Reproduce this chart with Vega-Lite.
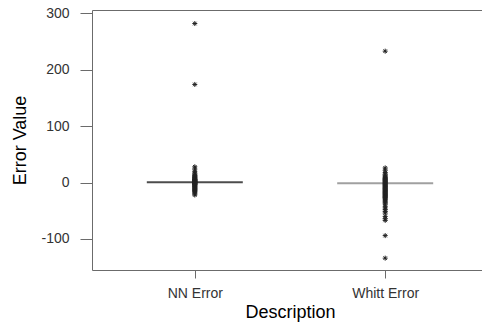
{
  "$schema": "https://vega.github.io/schema/vega-lite/v6.json",
  "width": 390,
  "height": 260,
  "autosize": "none",
  "padding": {"left": 92, "top": 10, "right": 0, "bottom": 55},
  "background": "white",
  "config": {
    "view": {"stroke": null},
    "font": "Liberation Sans",
    "axis": {
      "grid": false,
      "domainColor": "#6b6b6b",
      "tickColor": "#6b6b6b",
      "labelColor": "#333333",
      "labelFont": "Liberation Sans",
      "labelFontSize": 14,
      "titleFont": "Liberation Sans",
      "titleFontSize": 18,
      "titleFontWeight": "normal",
      "titleColor": "#000000"
    }
  },
  "datasets": {
    "errors": [
      {"Description": "NN Error", "Value": 282},
      {"Description": "NN Error", "Value": 174},
      {"Description": "NN Error", "Value": 28},
      {"Description": "NN Error", "Value": 24},
      {"Description": "NN Error", "Value": 20},
      {"Description": "NN Error", "Value": 17},
      {"Description": "NN Error", "Value": 15},
      {"Description": "NN Error", "Value": 13},
      {"Description": "NN Error", "Value": 12},
      {"Description": "NN Error", "Value": 11},
      {"Description": "NN Error", "Value": 10},
      {"Description": "NN Error", "Value": 9},
      {"Description": "NN Error", "Value": 8},
      {"Description": "NN Error", "Value": 7},
      {"Description": "NN Error", "Value": 6},
      {"Description": "NN Error", "Value": 5.5},
      {"Description": "NN Error", "Value": 5},
      {"Description": "NN Error", "Value": 4.5},
      {"Description": "NN Error", "Value": 4},
      {"Description": "NN Error", "Value": 3.5},
      {"Description": "NN Error", "Value": 3},
      {"Description": "NN Error", "Value": 2.5},
      {"Description": "NN Error", "Value": 2},
      {"Description": "NN Error", "Value": 1.5},
      {"Description": "NN Error", "Value": 1},
      {"Description": "NN Error", "Value": 0.5},
      {"Description": "NN Error", "Value": 0},
      {"Description": "NN Error", "Value": -0.5},
      {"Description": "NN Error", "Value": -1},
      {"Description": "NN Error", "Value": -1.5},
      {"Description": "NN Error", "Value": -2},
      {"Description": "NN Error", "Value": -2.5},
      {"Description": "NN Error", "Value": -3},
      {"Description": "NN Error", "Value": -3.5},
      {"Description": "NN Error", "Value": -4},
      {"Description": "NN Error", "Value": -5},
      {"Description": "NN Error", "Value": -6},
      {"Description": "NN Error", "Value": -7},
      {"Description": "NN Error", "Value": -8},
      {"Description": "NN Error", "Value": -9},
      {"Description": "NN Error", "Value": -10},
      {"Description": "NN Error", "Value": -11},
      {"Description": "NN Error", "Value": -12},
      {"Description": "NN Error", "Value": -13},
      {"Description": "NN Error", "Value": -14},
      {"Description": "NN Error", "Value": -15},
      {"Description": "NN Error", "Value": -16},
      {"Description": "NN Error", "Value": -18},
      {"Description": "NN Error", "Value": -20},
      {"Description": "NN Error", "Value": -22},
      {"Description": "Whitt Error", "Value": 233},
      {"Description": "Whitt Error", "Value": 26},
      {"Description": "Whitt Error", "Value": 22},
      {"Description": "Whitt Error", "Value": 18},
      {"Description": "Whitt Error", "Value": 15},
      {"Description": "Whitt Error", "Value": 13},
      {"Description": "Whitt Error", "Value": 11},
      {"Description": "Whitt Error", "Value": 9},
      {"Description": "Whitt Error", "Value": 8},
      {"Description": "Whitt Error", "Value": 7},
      {"Description": "Whitt Error", "Value": 6},
      {"Description": "Whitt Error", "Value": 5},
      {"Description": "Whitt Error", "Value": 4},
      {"Description": "Whitt Error", "Value": 3},
      {"Description": "Whitt Error", "Value": 2},
      {"Description": "Whitt Error", "Value": 1},
      {"Description": "Whitt Error", "Value": 0},
      {"Description": "Whitt Error", "Value": -1},
      {"Description": "Whitt Error", "Value": -2},
      {"Description": "Whitt Error", "Value": -3},
      {"Description": "Whitt Error", "Value": -4},
      {"Description": "Whitt Error", "Value": -5},
      {"Description": "Whitt Error", "Value": -6},
      {"Description": "Whitt Error", "Value": -7},
      {"Description": "Whitt Error", "Value": -8},
      {"Description": "Whitt Error", "Value": -9},
      {"Description": "Whitt Error", "Value": -10},
      {"Description": "Whitt Error", "Value": -11},
      {"Description": "Whitt Error", "Value": -12},
      {"Description": "Whitt Error", "Value": -13},
      {"Description": "Whitt Error", "Value": -14},
      {"Description": "Whitt Error", "Value": -15},
      {"Description": "Whitt Error", "Value": -16},
      {"Description": "Whitt Error", "Value": -17},
      {"Description": "Whitt Error", "Value": -18},
      {"Description": "Whitt Error", "Value": -19},
      {"Description": "Whitt Error", "Value": -20},
      {"Description": "Whitt Error", "Value": -21},
      {"Description": "Whitt Error", "Value": -22},
      {"Description": "Whitt Error", "Value": -23},
      {"Description": "Whitt Error", "Value": -24},
      {"Description": "Whitt Error", "Value": -25},
      {"Description": "Whitt Error", "Value": -26},
      {"Description": "Whitt Error", "Value": -27},
      {"Description": "Whitt Error", "Value": -28},
      {"Description": "Whitt Error", "Value": -30},
      {"Description": "Whitt Error", "Value": -32},
      {"Description": "Whitt Error", "Value": -34},
      {"Description": "Whitt Error", "Value": -36},
      {"Description": "Whitt Error", "Value": -38},
      {"Description": "Whitt Error", "Value": -42},
      {"Description": "Whitt Error", "Value": -45},
      {"Description": "Whitt Error", "Value": -48},
      {"Description": "Whitt Error", "Value": -51},
      {"Description": "Whitt Error", "Value": -54},
      {"Description": "Whitt Error", "Value": -60},
      {"Description": "Whitt Error", "Value": -64},
      {"Description": "Whitt Error", "Value": -67},
      {"Description": "Whitt Error", "Value": -94},
      {"Description": "Whitt Error", "Value": -134}
    ],
    "medians": [
      {"Description": "NN Error", "Value": 0.5},
      {"Description": "Whitt Error", "Value": -1}
    ]
  },
  "layer": [
    {
      "data": {"name": "medians"},
      "mark": {"type": "tick", "size": 96, "thickness": 2},
      "encoding": {
        "x": {
          "field": "Description",
          "type": "nominal",
          "scale": {"type": "point", "range": [0, 396], "padding": 0.54},
          "axis": {"orient": "top", "labels": false, "ticks": false, "title": null}
        },
        "y": {
          "field": "Value",
          "type": "quantitative",
          "scale": {"domain": [-155, 306], "nice": false, "zero": false},
          "axis": {
            "title": "Error Value",
            "values": [-100, 0, 100, 200, 300],
            "labelExpr": "'' + datum.value",
            "tickSize": 12,
            "labelPadding": 11,
            "titlePadding": 11
          }
        },
        "color": {
          "field": "Description",
          "type": "nominal",
          "scale": {"range": ["#000000", "#777777"]},
          "legend": null
        }
      }
    },
    {
      "data": {"name": "errors"},
      "mark": {
        "type": "point",
        "shape": "M-1,0L1,0M0,-1L0,1M-0.7,-0.7L0.7,0.7M-0.7,0.7L0.7,-0.7",
        "filled": false,
        "size": 25,
        "strokeWidth": 1,
        "color": "#222222",
        "opacity": 1
      },
      "encoding": {
        "x": {
          "field": "Description",
          "type": "nominal",
          "axis": {
            "orient": "bottom",
            "title": "Description",
            "labelAngle": 0,
            "tickSize": 8,
            "labelPadding": 8,
            "titlePadding": 3
          }
        },
        "y": {"field": "Value", "type": "quantitative"}
      }
    }
  ],
  "resolve": {"axis": {"x": "independent"}}
}
